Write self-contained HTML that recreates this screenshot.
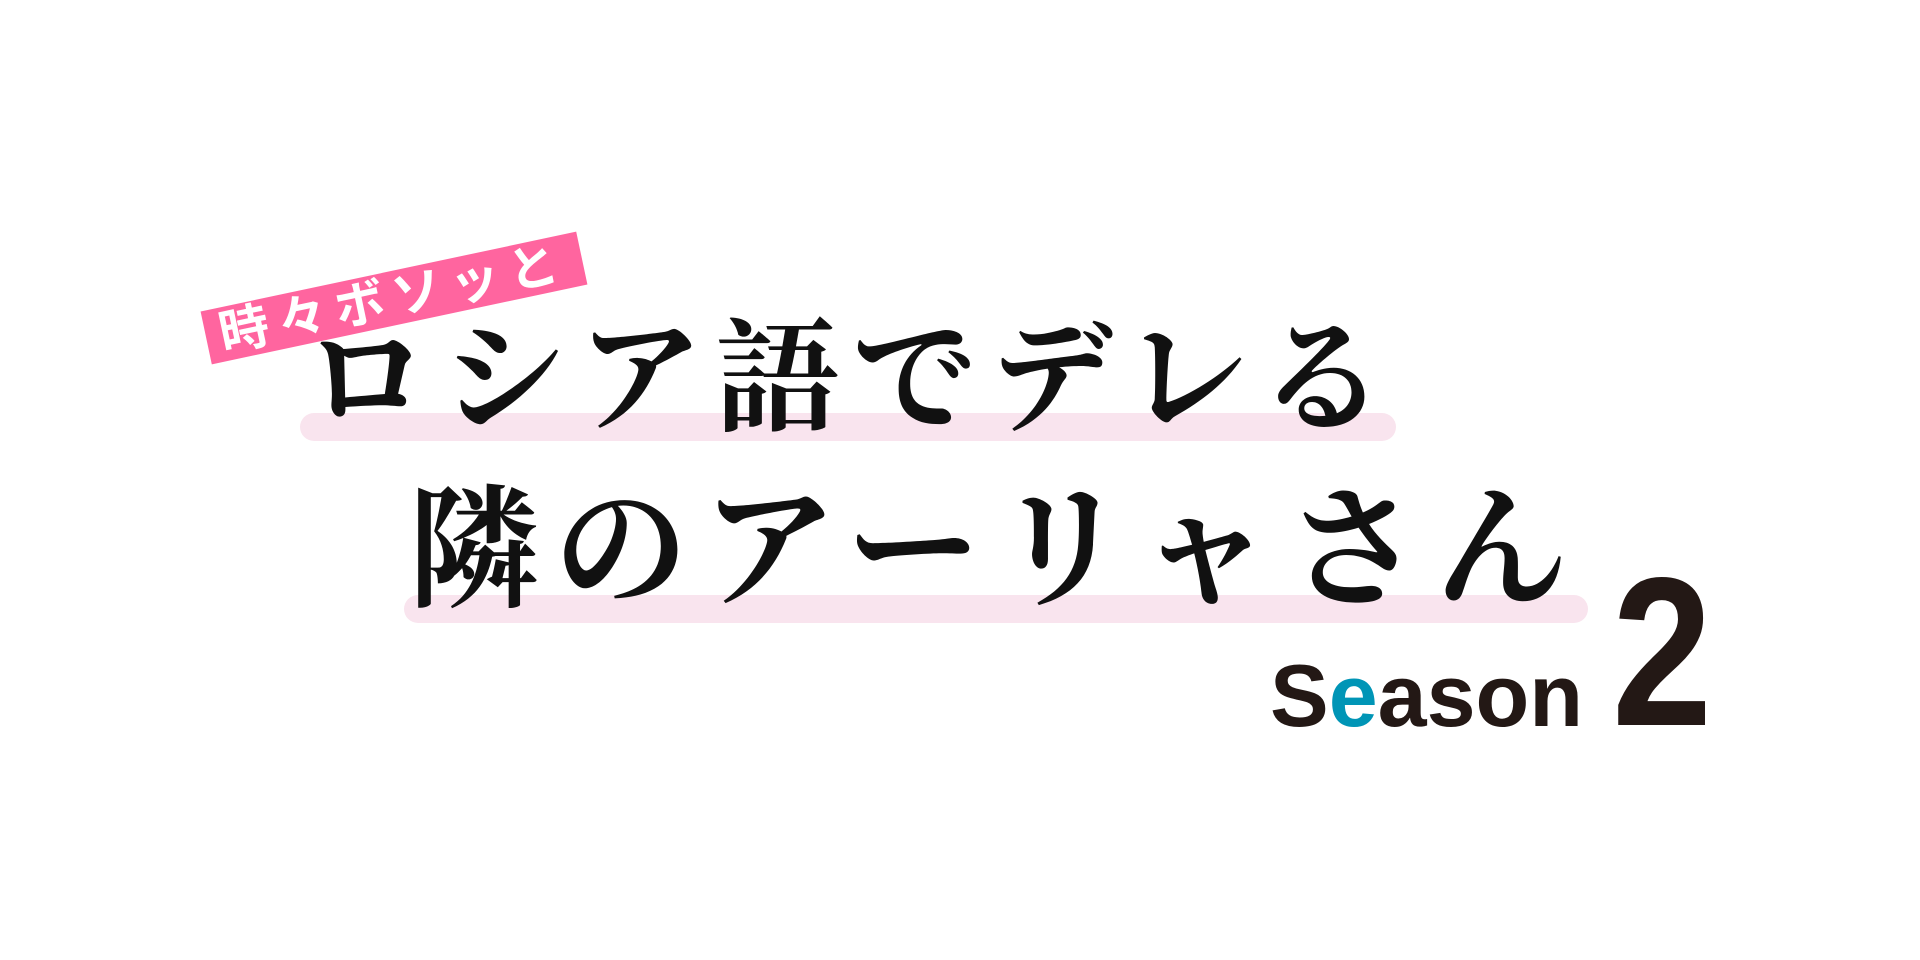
<!DOCTYPE html>
<html><head><meta charset="utf-8"><style>
html,body{margin:0;padding:0;background:#fff;width:1920px;height:960px;overflow:hidden;position:relative}
.bar{position:absolute;background:#f9e4ee;border-radius:14px}
.t{position:absolute;font-family:"Liberation Serif","Noto Serif CJK SC",serif;font-weight:bold;color:#111;white-space:nowrap;line-height:1}
.banner{position:absolute;left:202px;top:271px;width:384px;height:54px;background:#ff659f;transform:rotate(-12deg);transform-origin:center;color:#fff;font-family:"Liberation Sans","Noto Sans CJK JP",sans-serif;font-weight:bold;font-size:50px;line-height:54px;text-align:left;padding-left:14px;box-sizing:border-box;letter-spacing:9px}
.s{position:absolute;font-family:"Liberation Sans","Noto Sans CJK JP",sans-serif;font-weight:bold;color:#231815;line-height:1;white-space:nowrap}
</style></head><body>
<div class="bar" style="left:300px;top:413px;width:1096px;height:28px"></div>
<div class="bar" style="left:404px;top:595px;width:1184px;height:28px"></div>
<div class="banner">時々ボソッと</div>
<div class="t" style="left:304px;top:318px;font-size:124px;letter-spacing:13px">ロシア語でデレる</div>
<div class="t" style="left:406px;top:484px;font-size:134px;letter-spacing:14px">隣のアーリャさん</div>
<div class="s" style="left:1270px;top:652px;font-size:88px"><span>S</span><span style="color:#0095b6">e</span>ason</div>
<div class="s" style="left:1612px;top:546px;font-size:212px;transform:scaleX(0.85);transform-origin:left top">2</div>
</body></html>
